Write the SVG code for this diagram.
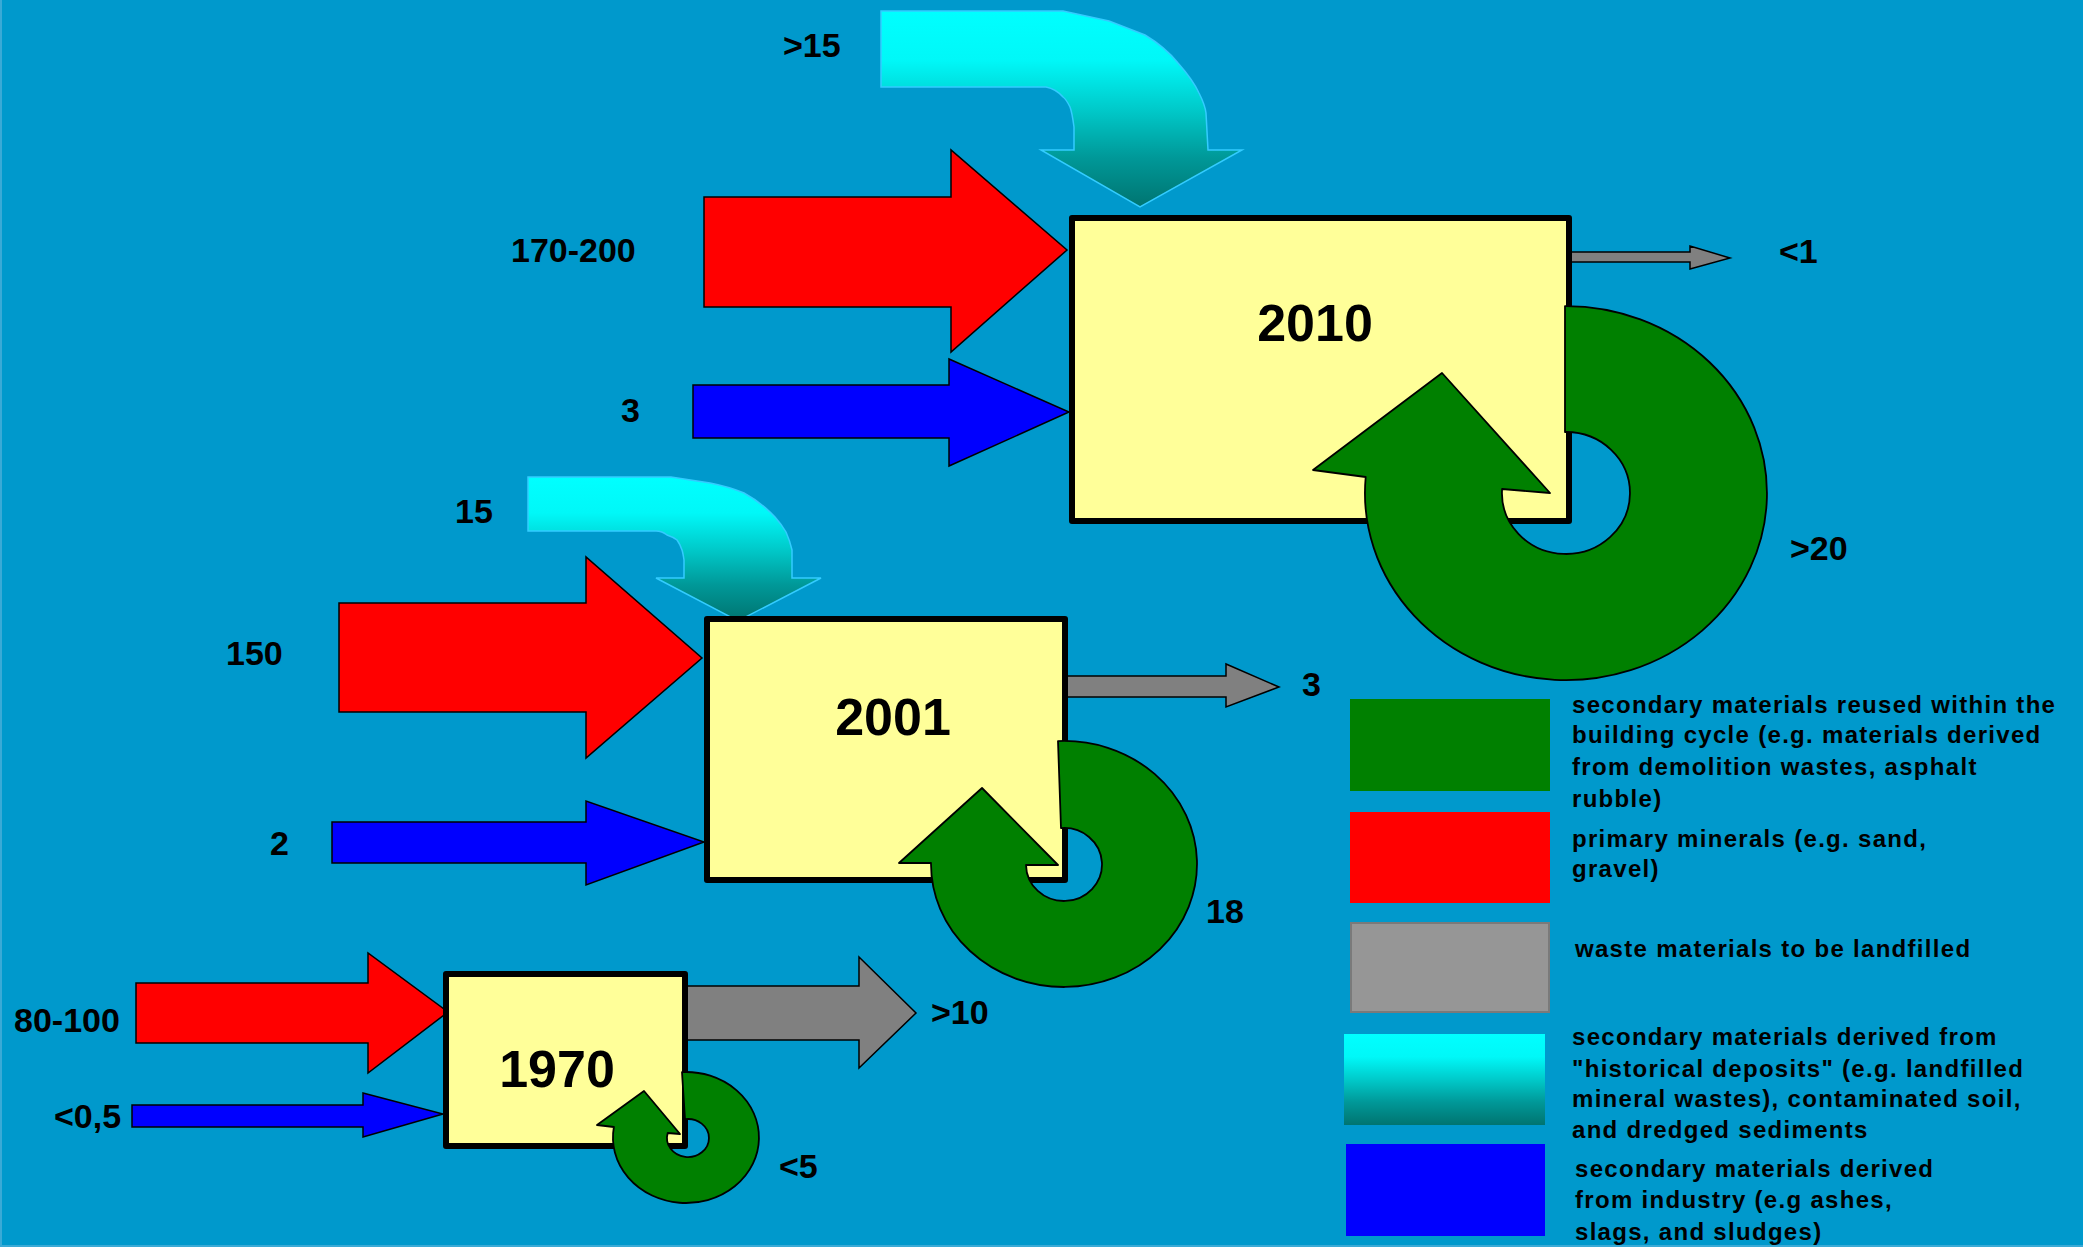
<svg xmlns="http://www.w3.org/2000/svg" width="2083" height="1247" viewBox="0 0 2083 1247">
<defs>
<linearGradient id="cyanGrad" x1="0" y1="0" x2="0" y2="1">
<stop offset="0" stop-color="#00FFFF"/>
<stop offset="0.25" stop-color="#00F8F8"/>
<stop offset="0.5" stop-color="#00CACA"/>
<stop offset="0.75" stop-color="#009898"/>
<stop offset="1" stop-color="#007470"/>
</linearGradient>
<style>
.box{fill:#FFFF99;stroke:#000;stroke-width:6;stroke-linejoin:round}
.year{font-family:"Liberation Sans",Arial,sans-serif;font-weight:bold;font-size:52px;fill:#000;text-anchor:middle}
.lbl{font-family:"Liberation Sans",Arial,sans-serif;font-weight:bold;font-size:34px;fill:#000}
.leg{font-family:"Liberation Sans",Arial,sans-serif;font-weight:bold;font-size:24px;letter-spacing:1.3px;fill:#000}
.red{fill:#FF0000;stroke:#000;stroke-width:1.5;stroke-linejoin:miter}
.blue{fill:#0000FF;stroke:#000;stroke-width:1.5}
.gray{fill:#808080;stroke:#000;stroke-width:1.5}
.green{fill:#008000;stroke:#000;stroke-width:1.8;stroke-linejoin:round}
.cyan{fill:url(#cyanGrad);stroke:#33CCFF;stroke-width:1.5}
</style>
</defs>
<rect x="0" y="0" width="2083" height="1247" fill="#0099CC"/>
<rect x="0" y="0" width="2" height="1247" fill="#3AAAD6"/>
<rect x="0" y="1245" width="2083" height="2" fill="#3AAAD6"/>

<g id="connectors">
<!-- 2010 inputs -->
<path class="cyan" d="M881,11 L1063,11 L1109,21 L1145,35 Q1165,47 1178,63 Q1193,80 1199,93 Q1205,105 1206,113 L1208,150 L1242,150 L1140,207 L1041,150 L1074,150 L1074,127 Q1072,112 1070,107 Q1066,99 1063,97 Q1056,89 1046,87 L881,87 Z"/>
<polygon class="red" points="704,197 951,197 951,150 1067,250 951,352 951,307 704,307"/>
<polygon class="blue" points="693,385 949,385 949,359 1069,412 949,466 949,438 693,438"/>
<polygon class="gray" points="1569,252 1690,252 1690,246 1730,258 1690,269 1690,262 1569,262"/>
<!-- 2001 inputs -->
<path class="cyan" d="M528,477 L671,477 L710,483 Q730,487 744,493 Q762,503 775,517 Q782,525 786,532 Q790,541 792,550 L792,578 L821,578 L738,621 L656,578 L684,578 L684,560 Q683,553 682,550 Q680,544 677,540 Q673,537 667,535 Q662,531 656,531 L528,531 Z"/>
<polygon class="red" points="339,603 586,603 586,557 702,658 586,758 586,712 339,712"/>
<polygon class="blue" points="332,822 586,822 586,801 704,842 586,885 586,863 332,863"/>
<polygon class="gray" points="1065,676 1226,676 1226,664 1279,687 1226,707 1226,697 1065,697"/>
<!-- 1970 inputs -->
<polygon class="red" points="136,983 368,983 368,953 448,1012 368,1073 368,1043 136,1043"/>
<polygon class="blue" points="132,1105 363,1105 363,1093 443,1114 363,1137 363,1127 132,1127"/>
<polygon class="gray" points="685,986 859,986 859,957 916,1013 859,1068 859,1040 685,1040"/>
</g>

<g id="node-2010">
<rect class="box" x="1072" y="218" width="497" height="303"/>
<text class="year" x="1315" y="341">2010</text>
<path class="green" d="M1565,306.1 A201,187 0 1 1 1365.7,477 L1313,470 L1442,373 L1550,493 L1502.1,489 A64,61 0 1 0 1565,432 Z"/>
</g>

<g id="node-2001">
<rect class="box" x="707" y="619" width="358" height="261"/>
<text class="year" x="893" y="735">2001</text>
<path class="green" d="M1058,741.1 A133,123 0 1 1 931,863 L899,863 L982,788 L1058,865 L1026,865 A38,36.5 0 1 0 1061,828.1 Z"/>
</g>

<g id="node-1970">
<rect class="box" x="446" y="974" width="239" height="172"/>
<text class="year" x="557" y="1087">1970</text>
<path class="green" d="M682,1072.1 A73,65.5 0 1 1 613.9,1127 L597,1125 L644,1091 L680,1134 L667.7,1133 A21,19 0 1 0 685,1119.2 Z"/>
</g>

<g id="labels">
<text class="lbl" x="783" y="57">&gt;15</text>
<text class="lbl" x="511" y="262">170-200</text>
<text class="lbl" x="621" y="422">3</text>
<text class="lbl" x="1779" y="263">&lt;1</text>
<text class="lbl" x="1790" y="560">&gt;20</text>
<text class="lbl" x="455" y="523">15</text>
<text class="lbl" x="226" y="665">150</text>
<text class="lbl" x="270" y="855">2</text>
<text class="lbl" x="1302" y="696">3</text>
<text class="lbl" x="1206" y="923">18</text>
<text class="lbl" x="14" y="1032">80-100</text>
<text class="lbl" x="54" y="1128">&lt;0,5</text>
<text class="lbl" x="931" y="1024">&gt;10</text>
<text class="lbl" x="779" y="1178">&lt;5</text>
</g>

<g id="legend-reused">
<rect x="1350" y="699" width="200" height="92" fill="#008000"/>
<text class="leg" x="1572" y="713">secondary materials reused within the</text>
<text class="leg" x="1572" y="743">building cycle (e.g. materials derived</text>
<text class="leg" x="1572" y="775">from demolition wastes, asphalt</text>
<text class="leg" x="1572" y="807">rubble)</text>
</g>
<g id="legend-primary">
<rect x="1350" y="812" width="200" height="91" fill="#FF0000"/>
<text class="leg" x="1572" y="847">primary minerals (e.g. sand,</text>
<text class="leg" x="1572" y="877">gravel)</text>
</g>
<g id="legend-waste">
<rect x="1351" y="923" width="198" height="89" fill="#969696" stroke="#7A7A7A" stroke-width="2"/>
<text class="leg" x="1575" y="957">waste materials to be landfilled</text>
</g>
<g id="legend-historical">
<rect x="1344" y="1034" width="201" height="91" fill="url(#cyanGrad)"/>
<text class="leg" x="1572" y="1045">secondary materials derived from</text>
<text class="leg" x="1572" y="1077">"historical deposits" (e.g. landfilled</text>
<text class="leg" x="1572" y="1107">mineral wastes), contaminated soil,</text>
<text class="leg" x="1572" y="1138">and dredged sediments</text>
</g>
<g id="legend-industry">
<rect x="1346" y="1144" width="199" height="92" fill="#0000FF"/>
<text class="leg" x="1575" y="1177">secondary materials derived</text>
<text class="leg" x="1575" y="1208">from industry (e.g ashes,</text>
<text class="leg" x="1575" y="1240">slags, and sludges)</text>
</g>
</svg>
